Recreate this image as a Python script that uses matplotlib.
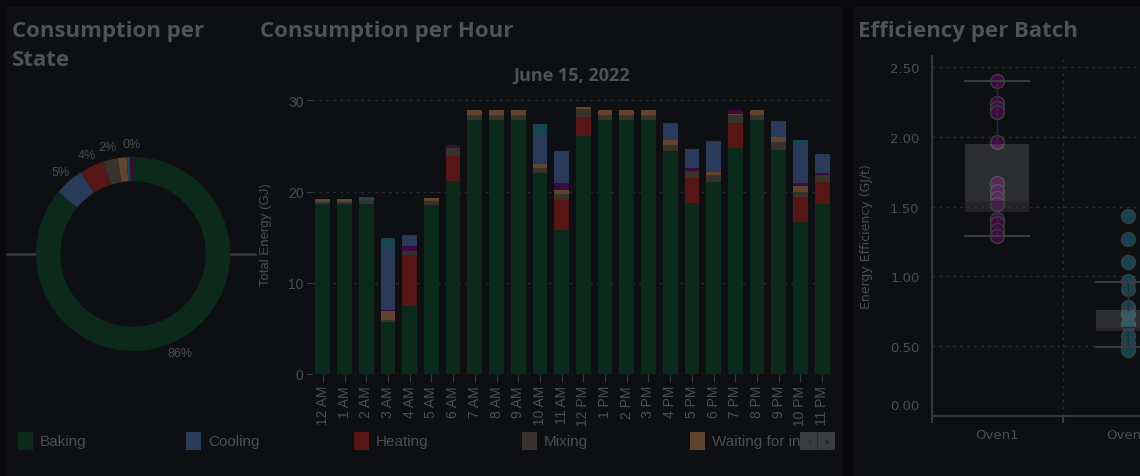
import numpy as np
import matplotlib.pyplot as plt
from matplotlib.patches import Rectangle
from matplotlib.transforms import Bbox, ScaledTranslation

W, H = 1140, 477

# hourly energy per state (GJ)
hours = ["12 AM", "1 AM", "2 AM", "3 AM", "4 AM", "5 AM", "6 AM", "7 AM", "8 AM", "9 AM", "10 AM", "11 AM",
         "12 PM", "1 PM", "2 PM", "3 PM", "4 PM", "5 PM", "6 PM", "7 PM", "8 PM", "9 PM", "10 PM", "11 PM"]
baking = [18.6, 18.6, 18.6, 5.7, 7.4, 18.5, 21.2, 27.8, 27.8, 27.8, 22.0, 15.8,
          26.1, 27.8, 27.8, 27.8, 24.4, 18.7, 21.0, 24.8, 27.8, 24.6, 16.7, 18.6]
heating = [0, 0, 0, 0, 5.6, 0, 2.7, 0, 0, 0, 0, 3.3,
           2.1, 0, 0, 0, 0, 2.8, 0, 2.7, 0, 0, 2.7, 2.4]
mixing = [0.3, 0.3, 0.5, 0.2, 0.5, 0.5, 0.9, 0.6, 0.6, 0.6, 0.6, 0.6,
          0.8, 0.6, 0.6, 0.6, 0.7, 0.7, 0.8, 0.9, 0.6, 0.8, 0.5, 0.8]
waiting_ingr = [0.3, 0.3, 0, 1.0, 0, 0.3, 0, 0.5, 0.5, 0.5, 0.4, 0.5,
                0.25, 0.5, 0.5, 0.5, 0.6, 0, 0.3, 0.1, 0.5, 0.6, 0.7, 0]
waiting_oven = [0, 0, 0, 0.1, 0.5, 0, 0.3, 0, 0, 0, 0, 0.7,
                0, 0, 0, 0, 0, 0.4, 0, 0.4, 0, 0, 0.35, 0.2]
cooling = [0, 0, 0, 6.9, 1.2, 0, 0, 0, 0, 0, 3.1, 3.5,
           0, 0, 0, 0, 1.8, 2.1, 3.4, 0, 0, 1.7, 4.0, 2.1]
cleaning = [0, 0, 0.3, 1.0, 0, 0, 0, 0, 0, 0, 1.3, 0,
            0, 0, 0, 0, 0, 0, 0, 0, 0, 0, 0.65, 0]

state_names = ["Baking", "Cooling", "Heating", "Mixing", "Waiting for ingredients", "Waiting for oven", "Cleaning"]
state_values = [baking, cooling, heating, mixing, waiting_ingr, waiting_oven, cleaning]
state_colors = ["#0c2a1c", "#293a5a", "#561616", "#38322c", "#62432e", "#3e0840", "#17444f"]
stack_order = ["Baking", "Heating", "Mixing", "Waiting for ingredients", "Waiting for oven", "Cooling", "Cleaning"]
legend_shown = ["Baking", "Cooling", "Heating", "Mixing", "Waiting for ingredients"]

# batch efficiency (GJ/t)
ovens = ["Oven1", "Oven2"]
oven1_eff = [2.40, 2.24, 2.21, 2.18, 1.96, 1.67, 1.61, 1.56, 1.52, 1.41, 1.38, 1.33, 1.29]
oven2_eff = [1.43, 1.27, 1.10, 0.97, 0.91, 0.78, 0.73, 0.66, 0.57, 0.52, 0.47]
oven_colors = ["#3f0b42", "#134450"]
box_q1 = [1.46, 0.61]
box_med = [1.54, 0.64]
box_q3 = [1.95, 0.76]
box_lo = [1.29, 0.49]
box_hi = [2.40, 0.96]

txt = "#4c4e51"
grid = "#2a2b2f"
panel = "#0e0f13"
sans = ["Liberation Sans", "DejaVu Sans"]
bold = ["Open Sans", "DejaVu Sans"]

fig = plt.figure(figsize=(W / 100, H / 100), dpi=100, facecolor="#09090c")
fig.add_artist(Rectangle((7 / W, 0), (843 - 7) / W, (H - 8) / H, transform=fig.transFigure,
                         facecolor=panel, edgecolor="none", zorder=0))
fig.add_artist(Rectangle((853 / W, 0), (W - 853) / W, (H - 8) / H, transform=fig.transFigure,
                         facecolor=panel, edgecolor="none", zorder=0))

for tx, ty, s in [(12, 31, "Consumption per"), (12, 61, "State"),
                  (260, 31, "Consumption per Hour"), (858, 31, "Efficiency per Batch")]:
    fig.text(tx / W, 1 - ty / H, s, color="#505256", fontsize=16, fontweight="bold",
             family=bold, va="center")

# ---- donut ----
totals = [sum(v) for v in state_values]
order = np.argsort(totals)[::-1]
pie_vals = [totals[i] for i in order]
pie_cols = [state_colors[i] for i in order]
pct = [100 * v / sum(pie_vals) for v in pie_vals]
hide_label = [False, False, False, False, True, True, False]
pie_labels = ["" if h else f"{p:.0f}%" for p, h in zip(pct, hide_label)]

pa = fig.add_axes([(133 - 121.25) / W, (222 - 121.25) / H, 242.5 / W, 242.5 / H])
pa.set_facecolor("none")
pa.plot([-1.30, 1.26], [0, 0], color="#3a3b3f", lw=1.8, zorder=0, clip_on=False)
wedges, texts = pa.pie(pie_vals, colors=pie_cols, startangle=90, counterclock=False,
                       labels=pie_labels, labeldistance=1.13,
                       wedgeprops=dict(width=0.25, linewidth=0),
                       textprops=dict(color=txt, fontsize=9, family=sans))
pa.add_patch(plt.Circle((0, 0), 0.75, color=panel, zorder=0.5))
for t in texts:
    t.set_ha("center")
    t.set_va("center")
pa.set_xlim(-1.25, 1.25)
pa.set_ylim(-1.25, 1.25)
pa.set_aspect("equal")

# ---- stacked bars ----
ax = fig.add_axes([312 / W, 102 / H, 521 / W, 281 / H])
ax.set_facecolor("none")
x = np.arange(len(hours))
bottom = np.zeros(len(hours))
for name in stack_order:
    i = state_names.index(name)
    vals = np.array(state_values[i])
    ax.bar(x, vals, 0.68, bottom=bottom, color=state_colors[i], linewidth=0, zorder=2)
    bottom += vals
ax.set_xlim(-0.5, len(hours) - 0.5)
ax.set_ylim(0, 30.8)
ax.set_yticks([0, 10, 20, 30])
ax.set_xticks(x)
ax.set_xticklabels(hours, rotation=90, family=sans, fontsize=10, color=txt)
ax.tick_params(axis="y", colors="#3a3b3f", labelcolor=txt, labelsize=10, length=4, pad=2)
ax.tick_params(axis="x", colors="#3a3b3f", labelcolor=txt, length=6, pad=2)
for lb in ax.get_yticklabels():
    lb.set_family(sans)
ax.grid(axis="y", color=grid, linestyle=(0, (2, 3)), lw=1, zorder=0)
for s in ax.spines.values():
    s.set_visible(False)
ax.set_ylabel("Total Energy (GJ)", color=txt, fontsize=9.5, family=sans)
ax.yaxis.set_label_coords(-40 / 521, 0.5)
fig.text(572 / W, 1 - 76 / H, "June 15, 2022", color="#505256", fontsize=13, fontweight="bold",
         family=bold, ha="center", va="center")

# legend (clipped by the scroll button, as in the dashboard)
for k, name in enumerate(legend_shown):
    i = state_names.index(name)
    x0 = 18 + 168 * k
    fig.add_artist(Rectangle((x0 / W, 1 - 451 / H), 15 / W, 18 / H, transform=fig.transFigure,
                             facecolor=state_colors[i], edgecolor="none"))
    t = fig.text((x0 + 22) / W, 1 - 442 / H, name, color=txt, fontsize=11, family=sans, va="center")
    t.set_clip_box(Bbox.from_extents(0, 0, 800, H))
    t.set_clip_on(True)
fig.add_artist(Rectangle((800 / W, 1 - 451 / H), 35 / W, 18 / H, transform=fig.transFigure,
                         facecolor="#3b3c3f", edgecolor="none"))
fig.add_artist(Rectangle((817 / W, 1 - 451 / H), 1 / W, 18 / H, transform=fig.transFigure,
                         facecolor="#2c2d30", edgecolor="none"))
fig.text(809 / W, 1 - 442 / H, "‹", color="#26272a", fontsize=8, ha="center", va="center")
fig.text(827 / W, 1 - 442 / H, "›", color="#0e0f12", fontsize=8, ha="center", va="center",
         fontweight="bold")

# ---- box plot ----
bx = fig.add_axes([932 / W, 60.2 / H, 314 / W, 359.8 / H])
bx.set_facecolor("none")
bx.set_xlim(-0.5, 1.9)
bx.set_ylim(0, 2.58)
for j, pts in enumerate([oven1_eff, oven2_eff]):
    bx.scatter([j] * len(pts), pts, s=100, color=oven_colors[j], edgecolors="#3c3d41",
               linewidths=1, zorder=2)
stats = [dict(label=ovens[j], whislo=box_lo[j], q1=box_q1[j], med=box_med[j], q3=box_q3[j],
              whishi=box_hi[j], fliers=[]) for j in range(len(ovens))]
bx.bxp(stats, positions=[0, 1], widths=0.49, capwidths=0.49, patch_artist=True, showfliers=False,
       boxprops=dict(facecolor=(1, 1, 1, 0.13), edgecolor="none"),
       whiskerprops=dict(color="#2c2d31", lw=1),
       capprops=dict(color="#3a3b3f", lw=1.5),
       medianprops=dict(color="#2b2c30", lw=1), manage_ticks=False, zorder=3)
bx.bar([0, 1], np.array(box_med) - np.array(box_q1), 0.49, bottom=box_q1,
       color=(0, 0, 0, 0.22), linewidth=0, zorder=3)
bx.set_yticks([0, 0.5, 1.0, 1.5, 2.0, 2.5])
bx.set_yticklabels([f"{v:.2f}" for v in [0, 0.5, 1.0, 1.5, 2.0, 2.5]])
bx.set_xticks([0, 1])
bx.set_xticklabels(ovens)
bx.set_xticks([-0.5, 0.5, 1.5], minor=True)
bx.tick_params(axis="y", length=0, labelcolor=txt, labelsize=9.5, pad=9)
bx.tick_params(axis="x", which="major", length=0, labelcolor=txt, labelsize=9.5, pad=9)
bx.tick_params(axis="x", which="minor", length=5, color="#3a3b3f", width=1.5)
bx.grid(axis="y", color=grid, linestyle=(0, (2, 3)), lw=1, zorder=0)
bx.grid(axis="x", which="minor", color=grid, linestyle=(0, (2, 3)), lw=1, zorder=0)
bx.grid(axis="x", which="major", visible=False)
for s in ["top", "right"]:
    bx.spines[s].set_visible(False)
for s in ["left", "bottom"]:
    bx.spines[s].set_color("#36373b")
    bx.spines[s].set_linewidth(1.5)
bx.set_ylabel("Energy Efficiency (GJ/t)", color=txt, fontsize=9)
bx.yaxis.set_label_coords(-59 / 314, 0.5)
lab0 = bx.get_yticklabels()[0]
lab0.set_transform(lab0.get_transform() + ScaledTranslation(0, 12 / 100, fig.dpi_scale_trans))

fig.savefig("out.png", dpi=100, facecolor=fig.get_facecolor())
